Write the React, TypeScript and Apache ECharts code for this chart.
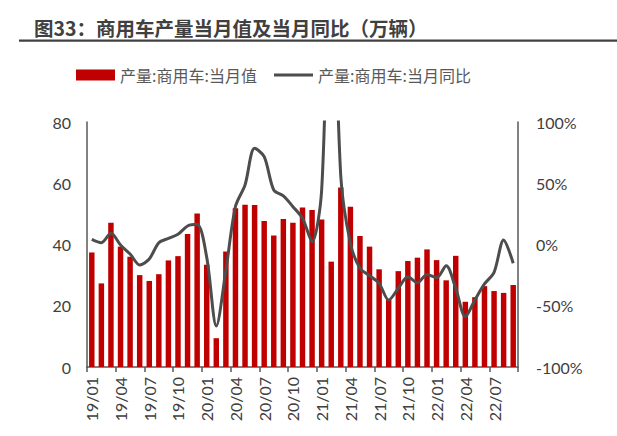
import React, { useEffect, useRef } from "react";
import * as echarts from "echarts";

const categories = [
  "19/01","19/02","19/03","19/04","19/05","19/06","19/07","19/08","19/09","19/10","19/11","19/12",
  "20/01","20/02","20/03","20/04","20/05","20/06","20/07","20/08","20/09","20/10","20/11","20/12",
  "21/01","21/02","21/03","21/04","21/05","21/06","21/07","21/08","21/09","21/10","21/11","21/12",
  "22/01","22/02","22/03","22/04","22/05","22/06","22/07","22/08","22/09",
];

const monthlyOutput = [
  37.4, 27.3, 47.1, 39.3, 36.0, 30.0, 28.1, 30.3, 34.8, 36.2, 43.4, 50.1,
  33.4, 9.4, 37.7, 51.8, 53.0, 52.9, 47.7, 42.9, 48.3, 47.1, 52.1, 51.3,
  48.2, 34.4, 58.6, 52.3, 42.8, 39.3, 31.9, 22.0, 31.3, 34.6, 35.7, 38.4,
  34.9, 28.3, 36.3, 21.3, 22.8, 26.4, 24.8, 24.2, 26.8,
];

const monthlyYoY = [
  4.2, 1.5, 9.1, -0.4, -7.8, -16.7, -11.8, 1.5, 5.0, 8.3, 15.1, 16.5,
  -10.5, -66.5, -21.0, 31.0, 48.6, 78.5, 71.7, 44.5, 39.6, 30.9, 21.4, 2.3,
  44.5, 266.0, 55.3, 1.0, -19.4, -25.4, -31.7, -45.3, -35.8, -26.3, -31.2, -24.4,
  -27.1, -17.3, -35.8, -58.9, -45.3, -32.2, -22.7, 3.7, -15.3,
];

const leftTicks = { min: 0, max: 80, interval: 20 };
const rightTicks = { min: -100, max: 100, interval: 50 };

const titleText = "图33：商用车产量当月值及当月同比（万辆）";
const barName = "产量:商用车:当月值";
const lineName = "产量:商用车:当月同比";

const labelFont = "Lato, 'Noto Sans', sans-serif";
const cjkFont = "'Noto Sans CJK SC', 'Noto Sans', sans-serif";

export default function App() {
  const ref = useRef<HTMLDivElement>(null);
  useEffect(() => {
    if (!ref.current) return;
    const chart = echarts.init(ref.current, null, { renderer: "svg" });
    chart.setOption({
      animation: false,
      backgroundColor: "#ffffff",
      title: {
        text: titleText,
        left: 29,
        top: 13,
        textStyle: {
          fontFamily: cjkFont,
          fontSize: 19.5,
          fontWeight: "bold",
          color: "#404040",
        },
      },
      graphic: [
        {
          type: "rect",
          shape: { x: 19, y: 39.5, width: 598, height: 2.2 },
          style: { fill: "#404040" },
        },
      ],
      legend: [
        {
          data: [{ name: barName, icon: "rect" }],
          left: 76,
          top: 67,
          padding: 0,
          itemWidth: 39,
          itemHeight: 11,
          itemGap: 0,
          textStyle: { fontFamily: cjkFont, fontSize: 16, color: "#595959" },
        },
        {
          data: [{ name: lineName, icon: "rect" }],
          left: 274,
          top: 67,
          padding: 0,
          itemWidth: 39,
          itemHeight: 3,
          itemGap: 0,
          textStyle: { fontFamily: cjkFont, fontSize: 16, color: "#595959" },
        },
      ],
      grid: { left: 87, right: 99, top: 122, bottom: 69, containLabel: false },
      xAxis: {
        type: "category",
        data: categories,
        boundaryGap: true,
        axisLine: { show: true, lineStyle: { color: "#595959", width: 1.5 } },
        axisTick: { show: true, interval: 2, length: 5, lineStyle: { color: "#595959", width: 1.5 } },
        axisLabel: {
          interval: 2,
          rotate: 90,
          margin: 10,
          fontFamily: labelFont,
          fontSize: 16,
          color: "#404040",
        },
      },
      yAxis: [
        {
          type: "value",
          min: leftTicks.min,
          max: leftTicks.max,
          interval: leftTicks.interval,
          splitLine: { show: false },
          axisLine: { show: true, lineStyle: { color: "#595959", width: 1.5 } },
          axisTick: { show: false },
          axisLabel: { margin: 16, fontFamily: labelFont, fontSize: 16, color: "#404040" },
        },
        {
          type: "value",
          min: rightTicks.min,
          max: rightTicks.max,
          interval: rightTicks.interval,
          position: "right",
          splitLine: { show: false },
          axisLine: { show: true, lineStyle: { color: "#595959", width: 1.5 } },
          axisTick: { show: false },
          axisLabel: {
            margin: 18,
            fontFamily: labelFont,
            fontSize: 16,
            color: "#404040",
            formatter: "{value}%",
          },
        },
      ],
      series: [
        {
          name: barName,
          type: "bar",
          yAxisIndex: 0,
          data: monthlyOutput,
          barWidth: "57%",
          itemStyle: { color: "#C00000" },
        },
        {
          name: lineName,
          type: "line",
          yAxisIndex: 1,
          data: monthlyYoY,
          smooth: 0.3,
          clip: true,
          showSymbol: false,
          symbol: "none",
          lineStyle: { color: "#4D4D4D", width: 3 },
          itemStyle: { color: "#4D4D4D" },
        },
      ],
    });
    return () => chart.dispose();
  }, []);
  return (
    <div
      ref={ref}
      style={{ width: 617, height: 436, position: "absolute", left: 0, top: 0 }}
    />
  );
}
